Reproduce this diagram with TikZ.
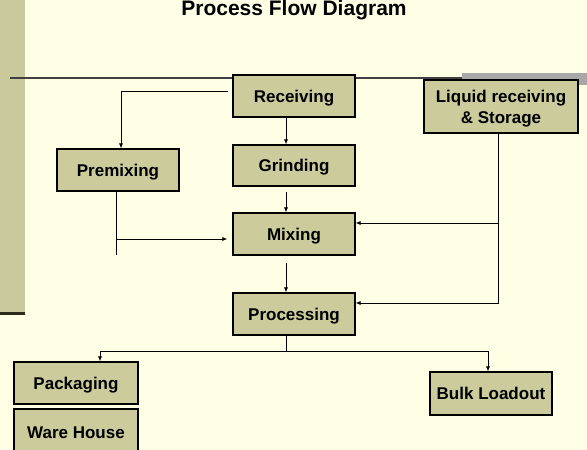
\documentclass[tikz,border=0pt]{standalone}
\usepackage{fontspec}
\setmainfont{Liberation Sans}
\usetikzlibrary{arrows.meta}

\definecolor{cream}{HTML}{FFFFE6}
\definecolor{olive}{HTML}{CBCB9C}
\definecolor{strip}{HTML}{C9C99B}
\definecolor{darkline}{HTML}{2B2B1A}
\definecolor{bargray}{HTML}{A8A8A8}

\begin{document}
\begin{tikzpicture}[x=1pt, y=-1pt,
	every node/.style={font=\fontsize{17}{21}\selectfont\bfseries},
	stepbox/.style={draw=black, line width=1.1pt, fill=olive, minimum width=122pt, minimum height=42pt, inner sep=2pt, text depth=0pt, align=center},
	arr/.style={-{Latex[length=5pt,width=4pt]}, line width=0.8pt}]
	\useasboundingbox (0,0) rectangle (587,450);
	\fill[cream] (0,0) rectangle (587,450);
	% left band and top rule
	\fill[strip] (0,0) rectangle (25,312);
	\fill[darkline] (0,312) rectangle (25,315);
	\draw[line width=1.4pt, black!75] (10,78) -- (587,78);
	\fill[bargray] (462,73) rectangle (587,85);
	\node[font=\fontsize{21}{25}\selectfont\bfseries, anchor=base] (title) at (294,15.8) {Process Flow Diagram};
	% boxes
	\node[stepbox] (recv) at (294,96) {Receiving};
	\node[stepbox, minimum width=154pt, minimum height=53pt] (liquid) at (501,106.5) {Liquid receiving\\\& Storage};
	\node[stepbox] (premix) at (118,170) {Premixing};
	\node[stepbox, minimum height=41pt] (grind) at (294,165.5) {Grinding};
	\node[stepbox] (mix) at (294,234) {Mixing};
	\node[stepbox] (proc) at (294,314) {Processing};
	\node[stepbox, minimum width=124pt] (pack) at (76,383) {Packaging};
	\node[stepbox, minimum width=124pt, minimum height=48pt] (ware) at (76,433) {Ware House};
	\node[stepbox, minimum height=43pt] (bulk) at (491,393.5) {Bulk Loadout};
	% junctions
	\coordinate (rp) at (228,91);
	\coordinate (pmend) at (116,255);
	\coordinate (pmj) at (116,239);
	\coordinate (lq) at (498,223);
	\coordinate (pj) at (286,351);
	% connectors
	\draw[arr] (rp) -| ([xshift=3pt]premix.north);
	\draw[arr] ([xshift=-8pt]recv.south) -- ([xshift=-8pt]grind.north);
	\draw[arr] ([shift={(-8,5)}]grind.south) -- ([xshift=-8pt]mix.north);
	\draw[line width=0.8pt] ([xshift=-2pt]premix.south) -- (pmend);
	\draw[arr] (pmj) -- ([shift={(-5,5)}]mix.west);
	\draw[arr] ([shift={(-8,7)}]mix.south) -- ([xshift=-8pt]proc.north);
	\draw[arr] ([xshift=-3pt]liquid.south) |- ([yshift=11pt]proc.east);
	\draw[arr] (lq) -- ([yshift=11pt]mix.east);
	\draw[line width=0.8pt] ([xshift=-8pt]proc.south) -- (pj);
	\draw[arr] (pj) -| ([xshift=24pt]pack.north);
	\draw[arr] (pj) -| ([xshift=-3pt]bulk.north);
\end{tikzpicture}
\end{document}
